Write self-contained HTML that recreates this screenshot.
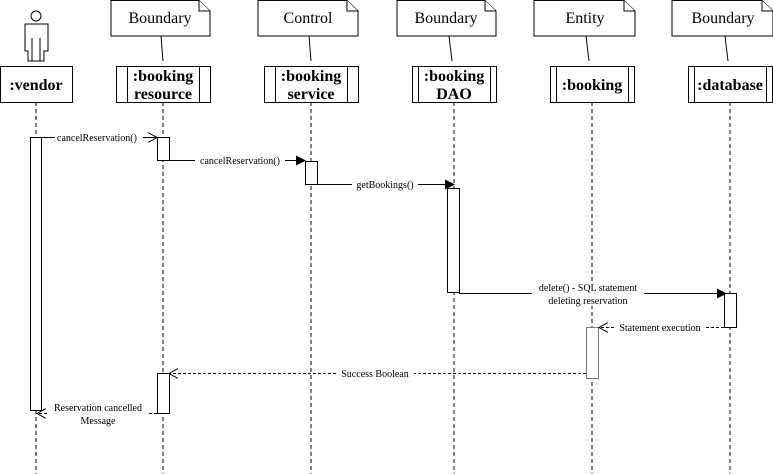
<!DOCTYPE html>
<html><head><style>body{margin:0;background:#fff}svg{display:block}</style></head><body>
<svg width="773" height="474" xmlns="http://www.w3.org/2000/svg" font-family="Liberation Serif, serif">
<defs>
<marker id="f" markerWidth="10" markerHeight="10" refX="9" refY="5" orient="auto" markerUnits="userSpaceOnUse"><path d="M0,0 L10,5 L0,10z" fill="#000"/></marker>
<marker id="o" markerWidth="10" markerHeight="10" refX="9" refY="5" orient="auto" markerUnits="userSpaceOnUse"><path d="M0,0 L9,5 L0,10" fill="none" stroke="#000"/></marker>
</defs>
<g stroke="#000" stroke-dasharray="4,3" fill="none">
<line x1="36" y1="102" x2="36" y2="474"/><line x1="163" y1="102" x2="163" y2="474"/>
<line x1="311" y1="102" x2="311" y2="474"/><line x1="454" y1="102" x2="454" y2="474"/>
<line x1="592" y1="102" x2="592" y2="474"/><line x1="730" y1="102" x2="730" y2="474"/>
</g>
<!-- actor -->
<g stroke="#000" fill="#fff">
<circle cx="36" cy="16" r="5"/>
<path d="M25,24 H48 V51 H44 V61 H28 V51 H25 Z"/>
<line x1="32" y1="38" x2="32" y2="61"/><line x1="40" y1="38" x2="40" y2="61"/>
<rect x="0.5" y="66.5" width="72" height="36"/>
</g>
<text x="36" y="90" font-size="16" font-weight="bold" text-anchor="middle">:vendor</text>
<!-- notes -->
<g stroke="#000" fill="#fff">
<path d="M111,0.5 H199 L210,11 V36 H111 Z"/><path d="M199,0.5 V11 H210"/>
<path d="M258,0.5 H347 L358,11 V36 H258 Z"/><path d="M347,0.5 V11 H358"/>
<path d="M397,0.5 H485 L496,11 V36 H397 Z"/><path d="M485,0.5 V11 H496"/>
<path d="M534,0.5 H624 L635,11 V36 H534 Z"/><path d="M624,0.5 V11 H635"/>
<path d="M672,0.5 H762 L773,11 V36 H672 Z"/><path d="M762,0.5 V11 H773"/>
<line x1="161" y1="36" x2="163" y2="61"/><line x1="309" y1="36" x2="311" y2="61"/>
<line x1="449" y1="36" x2="452" y2="61"/><line x1="586" y1="36" x2="589" y2="61"/>
<line x1="725" y1="36" x2="728" y2="61"/>
</g>
<g font-size="16" text-anchor="middle">
<text x="160" y="23">Boundary</text><text x="308" y="23">Control</text>
<text x="446" y="23">Boundary</text><text x="585" y="23">Entity</text><text x="723" y="23">Boundary</text>
</g>
<!-- boxes -->
<g stroke="#000" fill="#fff">
<rect x="116.5" y="66.5" width="94" height="36"/><line x1="127.5" y1="66" x2="127.5" y2="102"/><line x1="199.5" y1="66" x2="199.5" y2="102"/>
<rect x="264.5" y="66.5" width="94" height="36"/><line x1="275.5" y1="66" x2="275.5" y2="102"/><line x1="347.5" y1="66" x2="347.5" y2="102"/>
<rect x="412.5" y="66.5" width="84" height="36"/><line x1="418.5" y1="66" x2="418.5" y2="102"/><line x1="490.5" y1="66" x2="490.5" y2="102"/>
<rect x="550.5" y="66.5" width="84" height="36"/><line x1="556.5" y1="66" x2="556.5" y2="102"/><line x1="628.5" y1="66" x2="628.5" y2="102"/>
<rect x="688.5" y="66.5" width="84" height="36"/><line x1="694.5" y1="66" x2="694.5" y2="102"/><line x1="766.5" y1="66" x2="766.5" y2="102"/>
</g>
<g font-size="16" font-weight="bold" text-anchor="middle">
<text x="163" y="81">:booking</text><text x="163" y="99">resource</text>
<text x="311" y="81">:booking</text><text x="311" y="99">service</text>
<text x="454" y="81">:booking</text><text x="454" y="99">DAO</text>
<text x="592" y="90">:booking</text><text x="730" y="90">:database</text>
</g>
<!-- activations -->
<g stroke="#000" fill="#fff">
<rect x="30.5" y="137.5" width="11" height="273"/>
<rect x="157.5" y="137.5" width="12" height="23"/>
<rect x="305.5" y="161.5" width="12" height="23"/>
<rect x="447.5" y="188.5" width="12" height="104"/>
<rect x="724.5" y="293.5" width="12" height="34"/>
<rect x="157.5" y="373.5" width="12" height="40"/>
<rect x="586.5" y="327.5" width="12" height="51" stroke="#777"/>
</g>
<!-- messages -->
<g stroke="#000" fill="none">
<line x1="41" y1="137.5" x2="157" y2="137.5" marker-end="url(#o)"/>
<line x1="169" y1="160.5" x2="305" y2="160.5" marker-end="url(#f)"/>
<line x1="317" y1="184.5" x2="454" y2="184.5" marker-end="url(#f)"/>
<line x1="459" y1="293.5" x2="726" y2="293.5" marker-end="url(#f)"/>
<line x1="724" y1="327.5" x2="599" y2="327.5" stroke-dasharray="3,2" marker-end="url(#o)"/>
<line x1="586" y1="373.5" x2="169" y2="373.5" stroke-dasharray="3,2" marker-end="url(#o)"/>
<line x1="157" y1="413.5" x2="37" y2="413.5" stroke-dasharray="3,2" marker-end="url(#o)"/>
</g>
<g font-size="10" text-anchor="middle">
<rect x="55" y="131" width="88" height="12" fill="#fff"/><text x="97" y="141">cancelReservation()</text>
<rect x="195" y="154" width="90" height="12" fill="#fff"/><text x="240" y="164">cancelReservation()</text>
<rect x="352" y="178" width="66" height="12" fill="#fff"/><text x="385" y="188">getBookings()</text>
<rect x="532" y="282" width="112" height="24" fill="#fff"/><text x="588" y="291">delete() - SQL statement</text><text x="588" y="304">deleting  reservation</text>
<rect x="614" y="321" width="92" height="12" fill="#fff"/><text x="660" y="331">Statement execution</text>
<rect x="336" y="367" width="78" height="12" fill="#fff"/><text x="375" y="377">Success Boolean</text>
<rect x="48" y="401" width="100" height="26" fill="#fff"/><text x="98" y="411">Reservation cancelled</text><text x="98" y="424">Message</text>
</g>
</svg>
</body></html>
